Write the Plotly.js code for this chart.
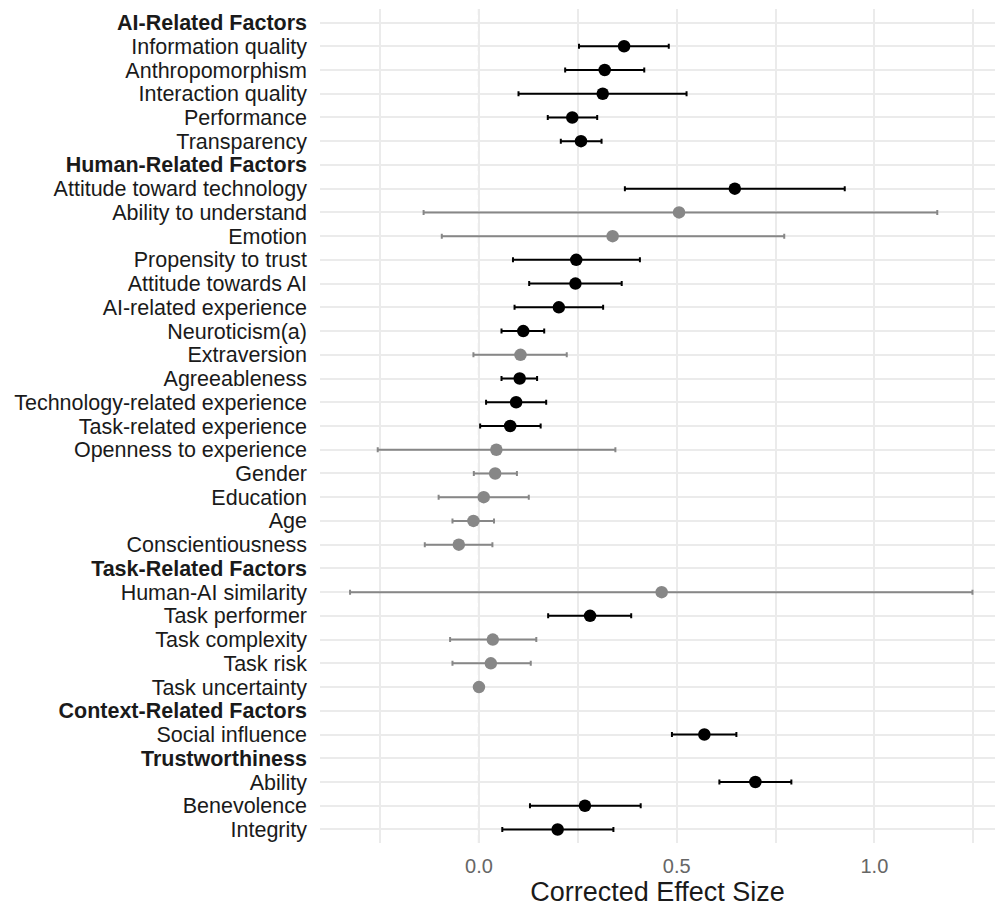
<!DOCTYPE html>
<html>
<head>
<meta charset="utf-8">
<script src="https://cdn.plot.ly/plotly-3.0.1.min.js"></script>
<style>html,body{margin:0;padding:0;background:#fff;}#chart{width:995px;height:909px;}</style>
</head>
<body>
<div id="chart"></div>
<script>
// Rows, top to bottom
const labels = [
  "AI-Related Factors","Information quality","Anthropomorphism","Interaction quality","Performance","Transparency",
  "Human-Related Factors","Attitude toward technology","Ability to understand","Emotion","Propensity to trust",
  "Attitude towards AI","AI-related experience","Neuroticism(a)","Extraversion","Agreeableness",
  "Technology-related experience","Task-related experience","Openness to experience","Gender","Education","Age",
  "Conscientiousness","Task-Related Factors","Human-AI similarity","Task performer","Task complexity","Task risk",
  "Task uncertainty","Context-Related Factors","Social influence","Trustworthiness","Ability","Benevolence","Integrity"
];
const isHeader = [1,0,0,0,0,0, 1,0,0,0,0, 0,0,0,0,0, 0,0,0,0,0,0, 0,1,0,0,0,0, 0,1,0,1,0,0,0];
const estimate = [null,0.367,0.318,0.313,0.236,0.258, null,0.647,0.506,0.338,0.246, 0.244,0.202,0.112,0.105,0.103,
  0.094,0.079,0.044,0.041,0.012,-0.014, -0.051,null,0.462,0.281,0.035,0.030, 0.000,null,0.570,null,0.699,0.268,0.199];
const ciLow = [null,0.253,0.218,0.100,0.174,0.207, null,0.369,-0.140,-0.094,0.086, 0.127,0.090,0.057,-0.014,0.057,
  0.018,0.003,-0.256,-0.013,-0.102,-0.067, -0.137,null,-0.326,0.175,-0.073,-0.067, 0.000,null,0.488,null,0.608,0.129,0.059];
const ciHigh = [null,0.480,0.418,0.525,0.299,0.310, null,0.925,1.159,0.772,0.407, 0.361,0.314,0.165,0.222,0.147,
  0.170,0.156,0.345,0.096,0.126,0.038, 0.034,null,1.248,0.385,0.145,0.131, 0.000,null,0.651,null,0.790,0.409,0.340];
const significant = [0,1,1,1,1,1, 0,1,0,0,1, 1,1,1,0,1, 1,1,0,0,0,0, 0,0,0,1,0,0, 0,0,1,0,1,1,1];
const xTickVals = [-0.25,0,0.25,0.5,0.75,1.0,1.25];
const xTickText = ["","0.0","","0.5","","1.0",""];

const names = labels.map((l,i) => isHeader[i] ? "<b>" + l + "</b>" : l);

function group(flag, color){
  const x=[], y=[], plus=[], minus=[];
  names.forEach((n,i)=>{
    if (isHeader[i] || significant[i] !== flag) return;
    x.push(estimate[i]); y.push(n);
    plus.push(ciHigh[i]-estimate[i]); minus.push(estimate[i]-ciLow[i]);
  });
  return {
    type:'scatter', mode:'markers', x:x, y:y, showlegend:false, hoverinfo:'x+y',
    marker:{color:color, size:12.5},
    error_x:{type:'data', symmetric:false, array:plus, arrayminus:minus, color:color, thickness:2, width:2.5}
  };
}

const allRows = {type:'scatter', mode:'markers', x:names.map(()=>null), y:names, showlegend:false, hoverinfo:'skip', marker:{opacity:0}};

const data = [allRows, group(0,'#878787'), group(1,'#000000')];

const layout = {
  width:995, height:909,
  margin:{l:320, r:0, t:9, b:66},
  paper_bgcolor:'#ffffff', plot_bgcolor:'#ffffff',
  font:{family:'"Liberation Sans", Arial, sans-serif', color:'#1a1a1a'},
  xaxis:{
    range:[-0.402,1.305], tickmode:'array', tickvals:xTickVals, ticktext:xTickText,
    showgrid:true, gridcolor:'#ebebeb', gridwidth:2, zeroline:false, showline:false, ticks:'',
    tickfont:{size:20, color:'#666666'}, ticklabelstandoff:9,
    title:{text:'Corrected Effect Size', font:{size:27, color:'#1a1a1a'}, standoff:4}
  },
  yaxis:{
    type:'category', categoryorder:'array', categoryarray:names, range:[34.57,-0.57],
    tickmode:'array', tickvals:names, ticktext:names,
    showgrid:true, gridcolor:'#ebebeb', gridwidth:2, zeroline:false, showline:false, ticks:'',
    tickfont:{size:21.5, color:'#1a1a1a'}, ticklabelstandoff:12, automargin:false
  },
  shapes:[{type:'line', xref:'x', yref:'paper', x0:0, x1:0, y0:0, y1:1, layer:'below',
    line:{color:'#808080', width:2, dash:'8px,4px'}}]
};

Plotly.newPlot('chart', data, layout, {displayModeBar:false, staticPlot:true});
</script>
</body>
</html>
